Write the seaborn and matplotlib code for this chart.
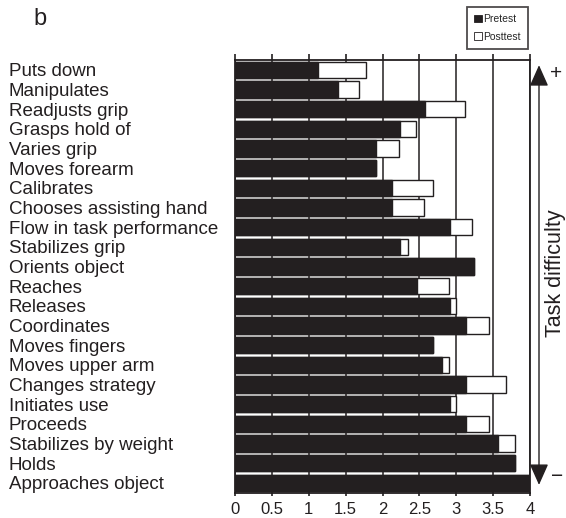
import matplotlib
matplotlib.use("Agg")
import matplotlib.pyplot as plt
from matplotlib.patches import Patch, ArrowStyle
import seaborn as sns
import pandas as pd

items = [
    "Puts down", "Manipulates", "Readjusts grip", "Grasps hold of", "Varies grip",
    "Moves forearm", "Calibrates", "Chooses assisting hand", "Flow in task performance",
    "Stabilizes grip", "Orients object", "Reaches", "Releases", "Coordinates",
    "Moves fingers", "Moves upper arm", "Changes strategy", "Initiates use", "Proceeds",
    "Stabilizes by weight", "Holds", "Approaches object",
]
pretest = [1.13, 1.39, 2.58, 2.24, 1.91, 1.91, 2.13, 2.13, 2.91, 2.24, 3.24,
           2.47, 2.91, 3.13, 2.69, 2.80, 3.13, 2.92, 3.13, 3.57, 3.80, 4.00]
posttest = [1.78, 1.68, 3.12, 2.45, 2.23, 1.91, 2.68, 2.56, 3.22, 2.34, 3.24,
            2.90, 3.00, 3.45, 2.69, 2.90, 3.67, 3.00, 3.45, 3.79, 3.80, 4.00]
x_ticks = [0, 0.5, 1, 1.5, 2, 2.5, 3, 3.5, 4]
x_tick_labels = ["0", "0.5", "1", "1.5", "2", "2.5", "3", "3.5", "4"]

sns.set_style("white")
plt.rcParams["font.family"] = ["Liberation Sans", "DejaVu Sans"]

ink = "#231f20"
df = pd.DataFrame({"item": items, "pre": pretest, "post": posttest})

fig = plt.figure(figsize=(5.66, 5.18), dpi=100)
ax = fig.add_axes([235 / 566, 1 - 492.7 / 518, 295 / 566, 432.7 / 518])

# Posttest first (white, outlined), pretest drawn on top in black
sns.barplot(data=df, x="post", y="item", orient="h", color="white", saturation=1,
            edgecolor=ink, linewidth=1.0, width=0.82, ax=ax, zorder=2)
sns.barplot(data=df, x="pre", y="item", orient="h", color=ink, saturation=1,
            edgecolor=ink, linewidth=1.0, width=0.82, ax=ax, zorder=3)

ax.set_xlim(0, 4)
ax.set_ylim(len(items) - 0.5, -0.5)
ax.set_xlabel("")
ax.set_ylabel("")
ax.set_axisbelow(True)
ax.xaxis.grid(True, color=ink, linewidth=1.1)
ax.yaxis.grid(False)

for side in ["top", "right", "left", "bottom"]:
    ax.spines[side].set_visible(True)
    ax.spines[side].set_color(ink)
    ax.spines[side].set_linewidth(1.3)

ax.set_xticks(x_ticks)
ax.set_xticklabels(x_tick_labels, fontsize=12, color=ink)
ax.tick_params(axis="x", top=True, bottom=True, direction="out", length=4,
               width=1.2, color=ink, pad=2.5)
for t in ax.xaxis.get_major_ticks():
    t.tick1line.set_markersize(2.5)
    t.tick2line.set_markersize(4)

ax.tick_params(axis="y", left=False, length=0, pad=163)
for lbl in ax.get_yticklabels():
    lbl.set_horizontalalignment("left")
    lbl.set_fontsize(13.5)
    lbl.set_color(ink)

# Difficulty arrow on the right
ax.annotate("", xy=(1.0305, 0.988), xytext=(1.0305, 0.018),
            xycoords="axes fraction", textcoords="axes fraction",
            arrowprops=dict(arrowstyle=ArrowStyle("<|-|>", head_length=1.3, head_width=0.58),
                            color=ink, lw=1.0, shrinkA=0, shrinkB=0),
            annotation_clip=False)
fig.text(556 / 566, 1 - 74 / 518, "+", fontsize=15, color=ink, ha="center", va="center")
fig.text(557 / 566, 1 - 477 / 518, "\u2212", fontsize=15, color=ink, ha="center", va="center")
fig.text(555 / 566, 1 - 273 / 518, "Task difficulty", rotation=90, fontsize=15.5,
         color=ink, ha="center", va="center")

fig.text(40 / 566, 1 - 19 / 518, "b", fontsize=17, color=ink, ha="center", va="center")

handles = [Patch(facecolor=ink, edgecolor=ink, linewidth=0.6, label="Pretest"),
           Patch(facecolor="white", edgecolor=ink, linewidth=0.6, label="Posttest")]
leg = fig.legend(handles=handles, loc="upper right", bbox_to_anchor=(528 / 566, 1 - 7 / 518),
                 fontsize=7.5, frameon=True, fancybox=False, borderaxespad=0,
                 handlelength=0.75, handleheight=0.75, handletextpad=0.1,
                 borderpad=0.7, labelspacing=0.7)
leg.get_frame().set_edgecolor(ink)
leg.get_frame().set_linewidth(1.3)

fig.savefig("out.png", dpi=100)
